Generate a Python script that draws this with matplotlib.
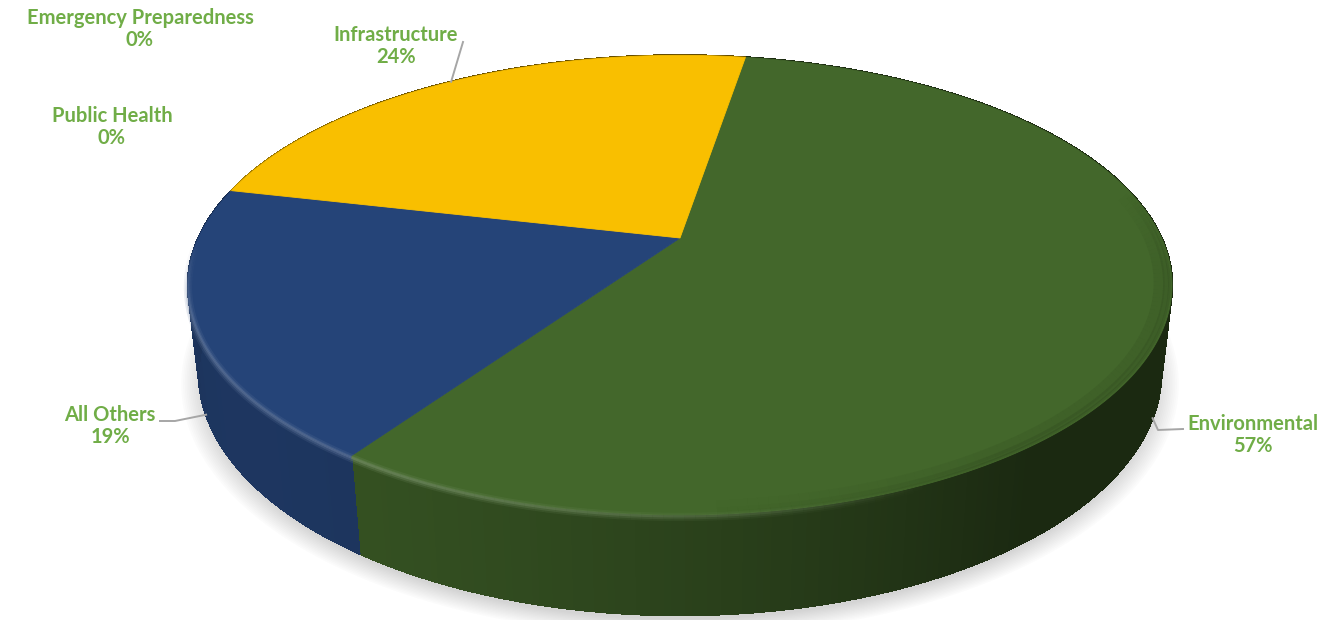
import numpy as np
import matplotlib.pyplot as plt
from matplotlib.collections import PolyCollection, LineCollection
from matplotlib.colors import to_rgb

# DATA
categories = ["Environmental", "All Others", "Public Health", "Emergency Preparedness", "Infrastructure"]
shares = [57, 19, 0, 0, 24]
slice_colors = ["#43672b", "#254478", "#5b9bd5", "#a5a5a5", "#f9bf00"]

# label centres (pixels) and where each leader line ends
label_xy = [(1253, 435), (110, 426), (112, 127), (140, 29), (396, 46)]
leader_end = [[(1158, 430), (1183, 429)], [(175, 421), (160, 421)], None, None, [(463, 42)]]

# VIEW SETTINGS - a simple perspective camera looking down on the disc
first_angle = np.radians(80.6)
elev = np.radians(27.2)
dist = 4.336
focal = 2088
height = 0.205
center = (680, 238)


def project(theta, z=0.0, r=1.0):
    x = r * np.cos(theta)
    y = r * np.sin(theta)
    depth = dist + y * np.cos(elev) - z * np.sin(elev)
    sx = focal * x / depth
    sy = focal * (y * np.sin(elev) + z * np.cos(elev)) / depth
    return center[0] + sx, center[1] - sy


def side_shade(theta):
    # light comes from the front left
    n = np.array([np.cos(theta), np.sin(theta)])
    light = np.array([-0.8, -0.6])
    return 0.40 + 0.40 * np.clip(n @ light, 0, 1)


fig = plt.figure(figsize=(13.22, 6.2), dpi=100)
ax = fig.add_axes([0, 0, 1, 1])
ax.set_xlim(0, 1322)
ax.set_ylim(620, 0)
ax.axis("off")

# soft shadow under the front half of the pie
front_half = np.linspace(np.pi - 0.1, 2 * np.pi + 0.1, 300)
for k in np.linspace(0.99, 1.035, 14):
    sx, sy = project(front_half, -height, k)
    ax.fill(sx, sy + 8, color="#7f7f7f", alpha=0.025, lw=0, zorder=1)

# slice boundaries, clockwise from the first angle
bounds = first_angle - np.concatenate([[0], np.cumsum(shares)]) / 100 * 2 * np.pi

# outer walls
for i, share in enumerate(shares):
    if share == 0:
        continue
    base = np.array(to_rgb(slice_colors[i]))
    th = np.linspace(bounds[i], bounds[i + 1], 300)
    quads, cols = [], []
    for a, b in zip(th[:-1], th[1:]):
        ta = project(a, 0)
        tb = project(b, 0)
        ba = project(a, -height)
        bb = project(b, -height)
        quads.append([ta, tb, bb, ba])
        cols.append(base * side_shade((a + b) / 2))
    ax.add_collection(PolyCollection(quads, facecolors=cols, edgecolors=cols, linewidths=1.0,
                                     antialiased=False, zorder=1))
    # smooth the bottom outline (front part only)
    bx, by = project(th, -height)
    segs, seg_cols = [], []
    for j in range(len(th) - 1):
        if np.sin((th[j] + th[j + 1]) / 2) < 0.25:
            segs.append([(bx[j], by[j]), (bx[j + 1], by[j + 1])])
            seg_cols.append(cols[j])
    ax.add_collection(LineCollection(segs, colors=seg_cols, linewidths=1.0, zorder=1))

# top faces
for i, share in enumerate(shares):
    if share == 0:
        continue
    th = np.linspace(bounds[i], bounds[i + 1], 200)
    sx, sy = project(th, 0)
    ax.fill(np.r_[center[0], sx], np.r_[center[1], sy], color=slice_colors[i], lw=0.6,
            ec=slice_colors[i], zorder=1)

# bevel along the front edge: light on the left, dark on the right
for i, share in enumerate(shares):
    if share == 0:
        continue
    base = np.array(to_rgb(slice_colors[i]))
    th = np.linspace(bounds[i], bounds[i + 1], 200)
    sx, sy = project(th, 0)
    light = base + (1 - base) * 0.3
    dark = base * 0.55
    for off, lw, a in [(2.0, 6, 0.18), (2.0, 3.5, 0.3), (1.5, 1.6, 0.45)]:
        segs = [[(sx[j], sy[j] + off), (sx[j + 1], sy[j + 1] + off)] for j in range(len(th) - 1)]
        cols = []
        for j in range(len(th) - 1):
            mid = (th[j] + th[j + 1]) / 2
            front = np.clip(-np.sin(mid) * 3, 0, 1)
            strength = np.clip((side_shade(mid) - 0.48) / 0.3, 0, 1) * front
            cols.append((*light, a * strength))
        ax.add_collection(LineCollection(segs, colors=cols, linewidths=lw, zorder=2))
    for r, lw, a in [(0.975, 8, 0.12), (0.988, 4, 0.18), (0.995, 2, 0.22)]:
        ix, iy = project(th, 0, r)
        segs = [[(ix[j], iy[j]), (ix[j + 1], iy[j + 1])] for j in range(len(th) - 1)]
        cols = []
        for j in range(len(th) - 1):
            mid = (th[j] + th[j + 1]) / 2
            front = np.clip(-np.sin(mid) * 3 + 0.6, 0, 1)
            strength = np.clip((0.62 - side_shade(mid)) / 0.2, 0, 1) * front
            cols.append((*dark, a * strength))
        ax.add_collection(LineCollection(segs, colors=cols, linewidths=lw, zorder=2))

# labels and leader lines
for i, name in enumerate(categories):
    ax.text(label_xy[i][0], label_xy[i][1], f"{name}\n{shares[i]}%", ha="center", va="center",
            color="#70ad47", fontsize=14.5, fontweight="bold", family="Lato", linespacing=1.15,
            zorder=3)
    if leader_end[i] is None:
        continue
    mid = (bounds[i] + bounds[i + 1]) / 2
    z = 0 if np.sin(mid) > 0 else -height
    start = project(mid, z)
    pts = [start] + leader_end[i]
    ax.plot([p[0] for p in pts], [p[1] for p in pts], color="#a6a6a6", lw=1.4, zorder=3)

plt.savefig("out.png", dpi=100)
